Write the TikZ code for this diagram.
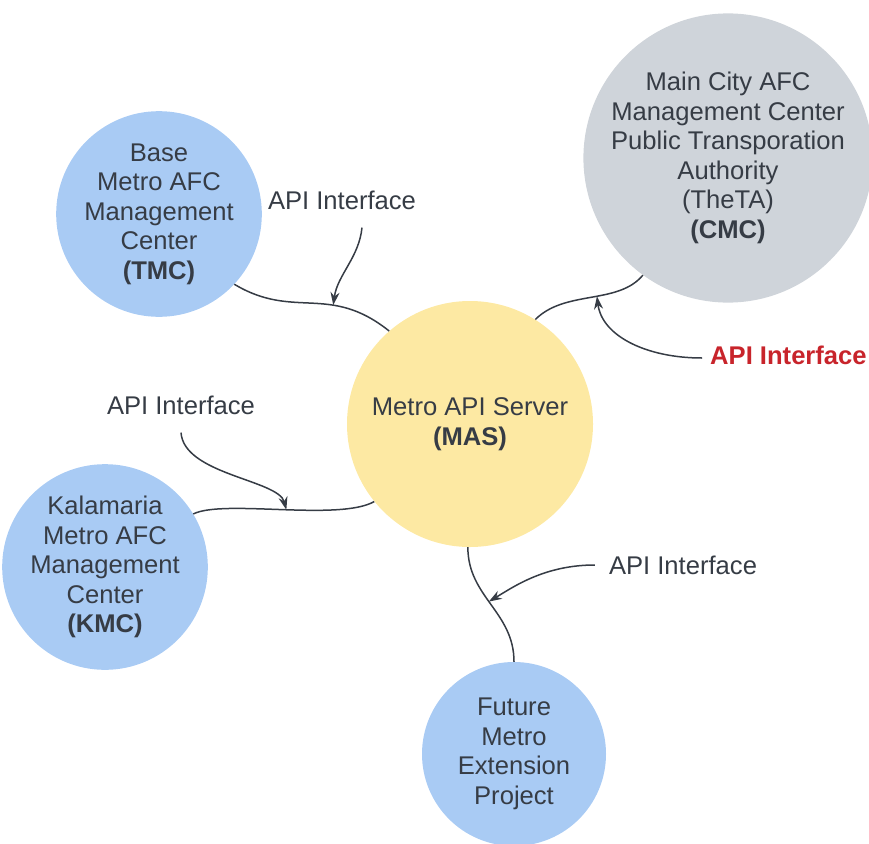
\documentclass[tikz,border=0pt]{standalone}
\usepackage{fontspec}
\setmainfont{Liberation Sans}
\usepackage{tikz}
\usetikzlibrary{arrows.meta}
\definecolor{masyellow}{HTML}{FDE9A3}
\definecolor{mcblue}{HTML}{A9CBF4}
\definecolor{cmcgray}{HTML}{CFD4DA}
\definecolor{inkgray}{HTML}{363C45}
\definecolor{apired}{HTML}{C8242B}

\begin{document}
\begin{tikzpicture}[
  x=1pt,y=-1pt,
  every node/.style={font=\fontsize{25.6}{29.5}\selectfont,align=center,text=inkgray},
  hub/.style={circle,fill=masyellow,minimum size=246pt,inner sep=0pt},
  centre/.style={circle,fill=mcblue,minimum size=184pt,inner sep=0pt},
  mainctr/.style={circle,fill=cmcgray,minimum size=276pt,inner sep=0pt},
  link/.style={draw=inkgray,line width=1.5pt},
  pointer/.style={-{Stealth[length=13pt,width=9pt]},draw=inkgray,line width=1.5pt},
  tag/.style={inner sep=2pt}
]
\useasboundingbox (0,0) rectangle (869,843);
\node[hub] (mas) at (470,424) {Metro API Server\\\textbf{(MAS)}};
\node[centre] (tmc) at (159,214) {Base\\Metro AFC\\Management\\Center\\\textbf{(TMC)}};
\node[mainctr] (cmc) at (728,158) {Main City AFC\\Management Center\\Public Transporation\\Authority\\(TheTA)\\\textbf{(CMC)}};
\node[centre] (kmc) at (105,567) {Kalamaria\\Metro AFC\\Management\\Center\\\textbf{(KMC)}};
\node[centre] (fut) at (514,754) {Future\\Metro\\Extension\\Project};

\node[tag] (tmcapi) at (342,200) {API Interface};
\node[tag] (kmcapi) at (181,405) {API Interface};
\node[tag] (futapi) at (683,565) {API Interface};
\node[tag,anchor=west,text=apired,font=\fontsize{25.6}{29.5}\selectfont\bfseries] (cmcapi) at (708,355) {API Interface};

\draw[link] (tmc.-43) .. controls +(60,36) and +(-60,-48) .. (mas.131) coordinate[pos=.65] (tmchit);
\draw[link] (mas.58) .. controls +(30,-30) and +(-25,30) .. (cmc.-126) coordinate[pos=.55] (cmchit);
\draw[link] (kmc.31) .. controls +(30,-15) and +(-35,20) .. (mas.-141) coordinate[pos=.52] (kmchit);
\draw[link] (mas.-91) .. controls +(0,50) and +(0,-50) .. (fut.north) coordinate[pos=.47] (futhit);

\draw[pointer] ([xshift=20pt,yshift=-16pt]tmcapi.south) .. controls +(-3,30) and +(4,-30) .. (tmchit);
\draw[pointer] ([yshift=-16pt]kmcapi.south) .. controls +(3,42) and +(-8,-30) .. (kmchit);
\draw[pointer] ([xshift=-12pt]futapi.west) .. controls +(-50,0) and +(25,-15) .. (futhit);
\draw[pointer] ([xshift=-6pt,yshift=-3pt]cmcapi.west) .. controls +(-55,0) and +(5,40) .. (cmchit);
\end{tikzpicture}
\end{document}
